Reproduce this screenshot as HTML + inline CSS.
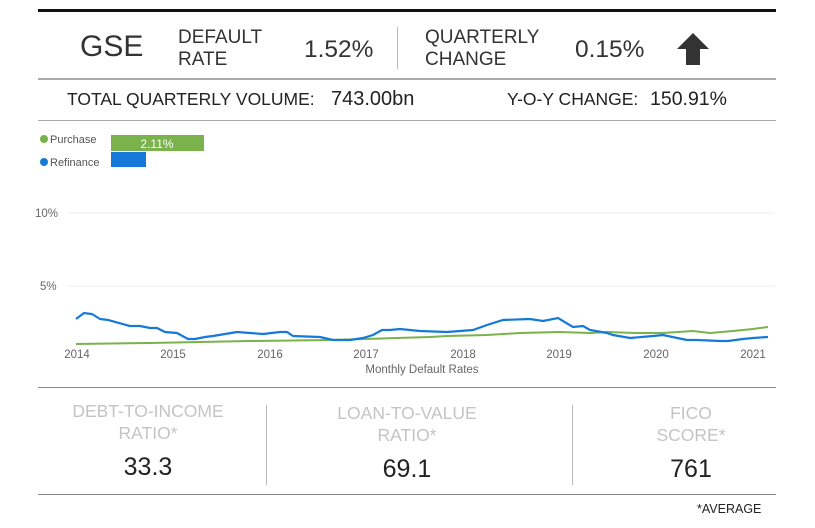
<!DOCTYPE html>
<html><head><meta charset="utf-8"><style>
body{margin:0;width:815px;height:528px;background:#fff;position:relative;overflow:hidden;font-family:"Liberation Sans",Arial,sans-serif;color:#222}
.a{position:absolute;white-space:nowrap}
.ln{position:absolute;left:38px;width:738px}
.g{color:#c4c4c4;text-align:center;font-size:17.5px;line-height:22px}
.v{text-align:center;font-size:25px;color:#222}
</style></head><body>
<div class="ln" style="top:9px;height:3px;background:#111"></div>
<div class="ln" style="top:78px;height:2px;background:#aaa"></div>
<div class="ln" style="top:120px;height:1px;background:#aaa"></div>
<div class="ln" style="top:387px;height:1px;background:#888"></div>
<div class="ln" style="top:494px;height:1px;background:#888"></div>

<div class="a" style="left:80px;top:30px;font-size:30px;color:#333">GSE</div>
<div class="a" style="left:178px;top:27px;font-size:19px;line-height:22px;color:#333">DEFAULT<br>RATE</div>
<div class="a" style="left:304px;top:36px;font-size:24.5px;color:#333">1.52%</div>
<div class="a" style="left:397px;top:27px;width:1px;height:42px;background:#bbb"></div>
<div class="a" style="left:425px;top:27px;font-size:19px;line-height:22px;color:#333">QUARTERLY<br>CHANGE</div>
<div class="a" style="left:575px;top:36px;font-size:24.5px;color:#333">0.15%</div>
<svg class="a" style="left:676px;top:32px" width="34" height="34"><polygon points="17,1 33,17 24,17 24,33 10,33 10,17 1,17" fill="#333"/></svg>

<div class="a" style="left:67px;top:89px;font-size:17.5px;color:#222">TOTAL QUARTERLY VOLUME:</div>
<div class="a" style="left:331px;top:88px;font-size:20px;color:#222">743.00bn</div>
<div class="a" style="left:507px;top:89px;font-size:17.5px;color:#222">Y-O-Y CHANGE:</div>
<div class="a" style="left:650px;top:88px;font-size:19.5px;color:#222">150.91%</div>

<svg class="a" style="left:0;top:0" width="815" height="390">
<circle cx="44" cy="139" r="4" fill="#78b34a"/><text x="50" y="143" font-size="11" fill="#555" font-family="Liberation Sans,sans-serif">Purchase</text>
<circle cx="44" cy="162" r="4" fill="#1479d8"/><text x="50" y="166" font-size="11" fill="#555" font-family="Liberation Sans,sans-serif">Refinance</text>
<rect x="111" y="135" width="93" height="16" fill="#7ab34c"/><text x="157" y="148" font-size="12" fill="#fff" text-anchor="middle" font-family="Liberation Sans,sans-serif">2.11%</text>
<rect x="111" y="152" width="35" height="15" fill="#1479d8"/>
<line x1="68" y1="213" x2="775" y2="213" stroke="#eee"/>
<line x1="68" y1="286" x2="775" y2="286" stroke="#eee"/>
<g font-size="11.5" fill="#666" font-family="Liberation Sans,sans-serif">
<text x="35" y="217">10%</text><text x="40" y="290">5%</text>
<text x="77" y="358" text-anchor="middle">2014</text><text x="173" y="358" text-anchor="middle">2015</text><text x="270" y="358" text-anchor="middle">2016</text><text x="366" y="358" text-anchor="middle">2017</text><text x="463" y="358" text-anchor="middle">2018</text><text x="559" y="358" text-anchor="middle">2019</text><text x="656" y="358" text-anchor="middle">2020</text><text x="753" y="358" text-anchor="middle">2021</text>
<text x="422" y="373" text-anchor="middle">Monthly Default Rates</text></g>
<polyline fill="none" stroke="#7ab34c" stroke-width="2" points="76,344 150,343 250,341 330,340 430,337 447,336 487,335 520,333 560,332 590,333 607,332 637,333 663,333 693,331 710,333 733,331 753,329 768,327"/>
<polyline fill="none" stroke="#1479d8" stroke-width="2.2" points="76,319 84,313 92,314 100,319 108,320 130,326 140,326 150,328 157,328 165,332 177,333 188,339 195,339 205,337 213,336 237,332 263,334 280,332 287,332 293,336 320,337 333,340 350,340 363,338 373,335 382,330 390,330 400,329 420,331 447,332 473,330 487,325 503,320 530,319 543,321 558,318 573,327 583,326 590,330 607,333 613,335 630,338 653,336 663,335 687,340 697,340 720,341 728,341 743,339 753,338 768,337"/>
</svg>

<div class="a" style="left:266px;top:405px;width:1px;height:80px;background:#bbb"></div>
<div class="a" style="left:572px;top:405px;width:1px;height:80px;background:#bbb"></div>
<div class="a g" style="left:48px;top:400px;width:200px">DEBT-TO-INCOME<br>RATIO*</div>
<div class="a v" style="left:48px;top:453px;width:200px">33.3</div>
<div class="a g" style="left:307px;top:402px;width:200px">LOAN-TO-VALUE<br>RATIO*</div>
<div class="a v" style="left:307px;top:455px;width:200px">69.1</div>
<div class="a g" style="left:591px;top:402px;width:200px">FICO<br>SCORE*</div>
<div class="a v" style="left:591px;top:455px;width:200px">761</div>
<div class="a" style="left:697px;top:502px;font-size:12.5px;color:#222">*AVERAGE</div>
</body></html>
